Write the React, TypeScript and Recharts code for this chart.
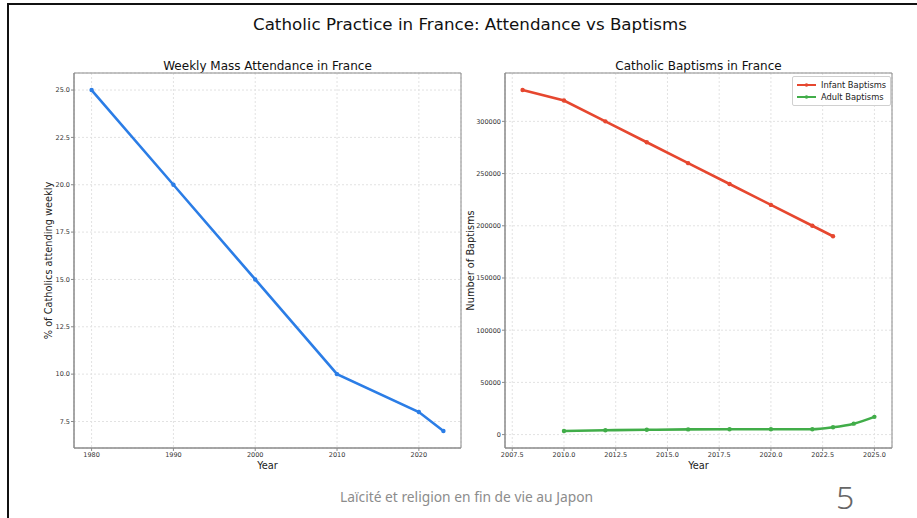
import React from "react";
import { LineChart, Line, XAxis, YAxis, CartesianGrid, ReferenceArea, Legend } from "recharts";

// weekly mass attendance (% of catholics)
const massYears = [1980, 1990, 2000, 2010, 2020, 2023];
const massPct = [25, 20, 15, 10, 8, 7];
const massTicksX = [1980, 1990, 2000, 2010, 2020];
const massTicksY = [7.5, 10, 12.5, 15, 17.5, 20, 22.5, 25];

// baptisms
const seriesNames = ["Infant Baptisms", "Adult Baptisms"];
const infantYears = [2008, 2010, 2012, 2014, 2016, 2018, 2020, 2022, 2023];
const infantCounts = [330000, 320000, 300000, 280000, 260000, 240000, 220000, 200000, 190000];
const adultYears = [2010, 2012, 2014, 2016, 2018, 2020, 2022, 2023, 2024, 2025];
const adultCounts = [3500, 4200, 4600, 5000, 5100, 5100, 5100, 7000, 10500, 17000];
const baptismTicksX = [2007.5, 2010, 2012.5, 2015, 2017.5, 2020, 2022.5, 2025];
const baptismTicksY = [0, 50000, 100000, 150000, 200000, 250000, 300000];

const massData = massYears.map((year, i) => ({ year, pct: massPct[i] }));
const infantData = infantYears.map((year, i) => ({ year, count: infantCounts[i] }));
const adultData = adultYears.map((year, i) => ({ year, count: adultCounts[i] }));

const FONT = "'DejaVu Sans', sans-serif";
const BLUE = "#2b7de6";
const RED = "#e6472f";
const GREEN = "#41ad49";
const SPINE = "#8a8a8a";

const tickStyle = { fontSize: 6.5, fill: "#333", fontFamily: FONT };
const labelStyle = { fontSize: 9.8, fill: "#222", fontFamily: FONT, textAnchor: "middle" as const };

function BaptismLegend({ payload }: any) {
  // keep the plotting order (recharts sorts by name otherwise)
  const items = [...(payload || [])].sort(
    (a: any, b: any) => seriesNames.indexOf(a.value) - seriesNames.indexOf(b.value)
  );
  return (
    <div
      style={{
        border: "1px solid #d0d0d0",
        borderRadius: 2,
        background: "rgba(255,255,255,0.85)",
        padding: "2px 4px",
        fontFamily: FONT,
        fontSize: 8.3,
        color: "#222",
      }}
    >
      {items.map((p: any) => (
        <div key={p.value} style={{ display: "flex", alignItems: "center", height: 12 }}>
          <svg width={19} height={6}>
            <line x1={0} y1={3} x2={19} y2={3} stroke={p.color} strokeWidth={2} />
            <circle cx={9.5} cy={3} r={1.8} fill={p.color} />
          </svg>
          <span style={{ marginLeft: 5, whiteSpace: "nowrap" }}>{p.value}</span>
        </div>
      ))}
    </div>
  );
}

export default function App() {
  const massX: [number, number] = [1977.85, 2025.15];
  const massY: [number, number] = [6.1, 25.9];
  const bapX: [number, number] = [2007.15, 2025.85];
  const bapY: [number, number] = [-12825, 346325];

  return (
    <div style={{ position: "absolute", left: 0, top: 0, width: 917, height: 518, background: "#fff", overflow: "hidden" }}>
      <div style={{ position: "absolute", left: 7, top: 3, right: -5, bottom: -5, borderTop: "2.3px solid #111", borderLeft: "2.3px solid #111" }} />

      <div style={{ position: "absolute", left: 0, top: 13, width: 940, textAlign: "center", fontFamily: FONT, fontSize: 16.7, lineHeight: "22px", color: "#111" }}>
        Catholic Practice in France: Attendance vs Baptisms
      </div>
      <div style={{ position: "absolute", left: 67.5, top: 58, width: 400, textAlign: "center", fontFamily: FONT, fontSize: 12, lineHeight: "16px", color: "#111" }}>
        Weekly Mass Attendance in France
      </div>
      <div style={{ position: "absolute", left: 498.5, top: 58, width: 400, textAlign: "center", fontFamily: FONT, fontSize: 12, lineHeight: "16px", color: "#111" }}>
        Catholic Baptisms in France
      </div>

      <div style={{ position: "absolute", left: 0, top: 0 }}>
        <LineChart width={470} height={518} data={massData} margin={{ top: 73, right: 9, bottom: 40, left: 34 }}>
          <CartesianGrid stroke="#e2e2e2" strokeDasharray="2 2" />
          <XAxis
            type="number"
            dataKey="year"
            domain={massX}
            ticks={massTicksX}
            allowDataOverflow
            height={30}
            tick={tickStyle}
            tickSize={3}
            tickMargin={1}
            stroke={SPINE}
            label={{ value: "Year", position: "insideBottom", offset: 9, style: labelStyle }}
          />
          <YAxis
            type="number"
            domain={massY}
            ticks={massTicksY}
            allowDataOverflow
            width={40}
            tick={tickStyle}
            tickSize={3}
            tickMargin={1}
            stroke={SPINE}
            tickFormatter={(v: number) => v.toFixed(1)}
            label={{ value: "% of Catholics attending weekly", angle: -90, position: "insideLeft", offset: 15, style: labelStyle }}
          />
          <ReferenceArea x1={massX[0]} x2={massX[1]} y1={massY[0]} y2={massY[1]} fill="none" stroke={SPINE} strokeWidth={1} ifOverflow="visible" />
          <Line
            type="linear"
            dataKey="pct"
            stroke={BLUE}
            strokeWidth={2.6}
            dot={{ r: 2.2, fill: BLUE, stroke: BLUE, strokeWidth: 0 }}
            activeDot={false}
            isAnimationActive={false}
          />
        </LineChart>
      </div>

      <div style={{ position: "absolute", left: 450, top: 0 }}>
        <LineChart width={460} height={518} margin={{ top: 73, right: 18, bottom: 40, left: 10 }}>
          <CartesianGrid stroke="#e2e2e2" strokeDasharray="2 2" />
          <XAxis
            type="number"
            dataKey="year"
            domain={bapX}
            ticks={baptismTicksX}
            allowDataOverflow
            height={30}
            tick={tickStyle}
            tickSize={3}
            tickMargin={1}
            stroke={SPINE}
            tickFormatter={(v: number) => v.toFixed(1)}
            label={{ value: "Year", position: "insideBottom", offset: 9, style: labelStyle }}
          />
          <YAxis
            type="number"
            domain={bapY}
            ticks={baptismTicksY}
            allowDataOverflow
            width={45}
            tick={tickStyle}
            tickSize={3}
            tickMargin={1}
            stroke={SPINE}
            label={{ value: "Number of Baptisms", angle: -90, position: "insideLeft", offset: 11, style: labelStyle }}
          />
          <ReferenceArea x1={bapX[0]} x2={bapX[1]} y1={bapY[0]} y2={bapY[1]} fill="none" stroke={SPINE} strokeWidth={1} ifOverflow="visible" />
          <Line
            data={infantData}
            name={seriesNames[0]}
            type="linear"
            dataKey="count"
            stroke={RED}
            strokeWidth={2.6}
            dot={{ r: 2.2, fill: RED, stroke: RED, strokeWidth: 0 }}
            activeDot={false}
            isAnimationActive={false}
          />
          <Line
            data={adultData}
            name={seriesNames[1]}
            type="monotone"
            dataKey="count"
            stroke={GREEN}
            strokeWidth={2.6}
            dot={{ r: 2.2, fill: GREEN, stroke: GREEN, strokeWidth: 0 }}
            activeDot={false}
            isAnimationActive={false}
          />
          <Legend
            layout="horizontal"
            verticalAlign="middle"
            align="center"
            wrapperStyle={{ left: 342, top: 76, width: "auto", height: "auto" }}
            content={BaptismLegend}
          />
        </LineChart>
      </div>

      <div style={{ position: "absolute", left: 340, top: 488, fontFamily: "'Noto Sans', sans-serif", fontSize: 13.8, lineHeight: "18px", color: "#8c8c8c", whiteSpace: "nowrap" }}>
        Laïcité et religion en fin de vie au Japon
      </div>
      <div style={{ position: "absolute", left: 836, top: 477, fontFamily: "'Noto Sans', sans-serif", fontWeight: 300, fontSize: 32, lineHeight: "40px", color: "#666" }}>
        5
      </div>
    </div>
  );
}
